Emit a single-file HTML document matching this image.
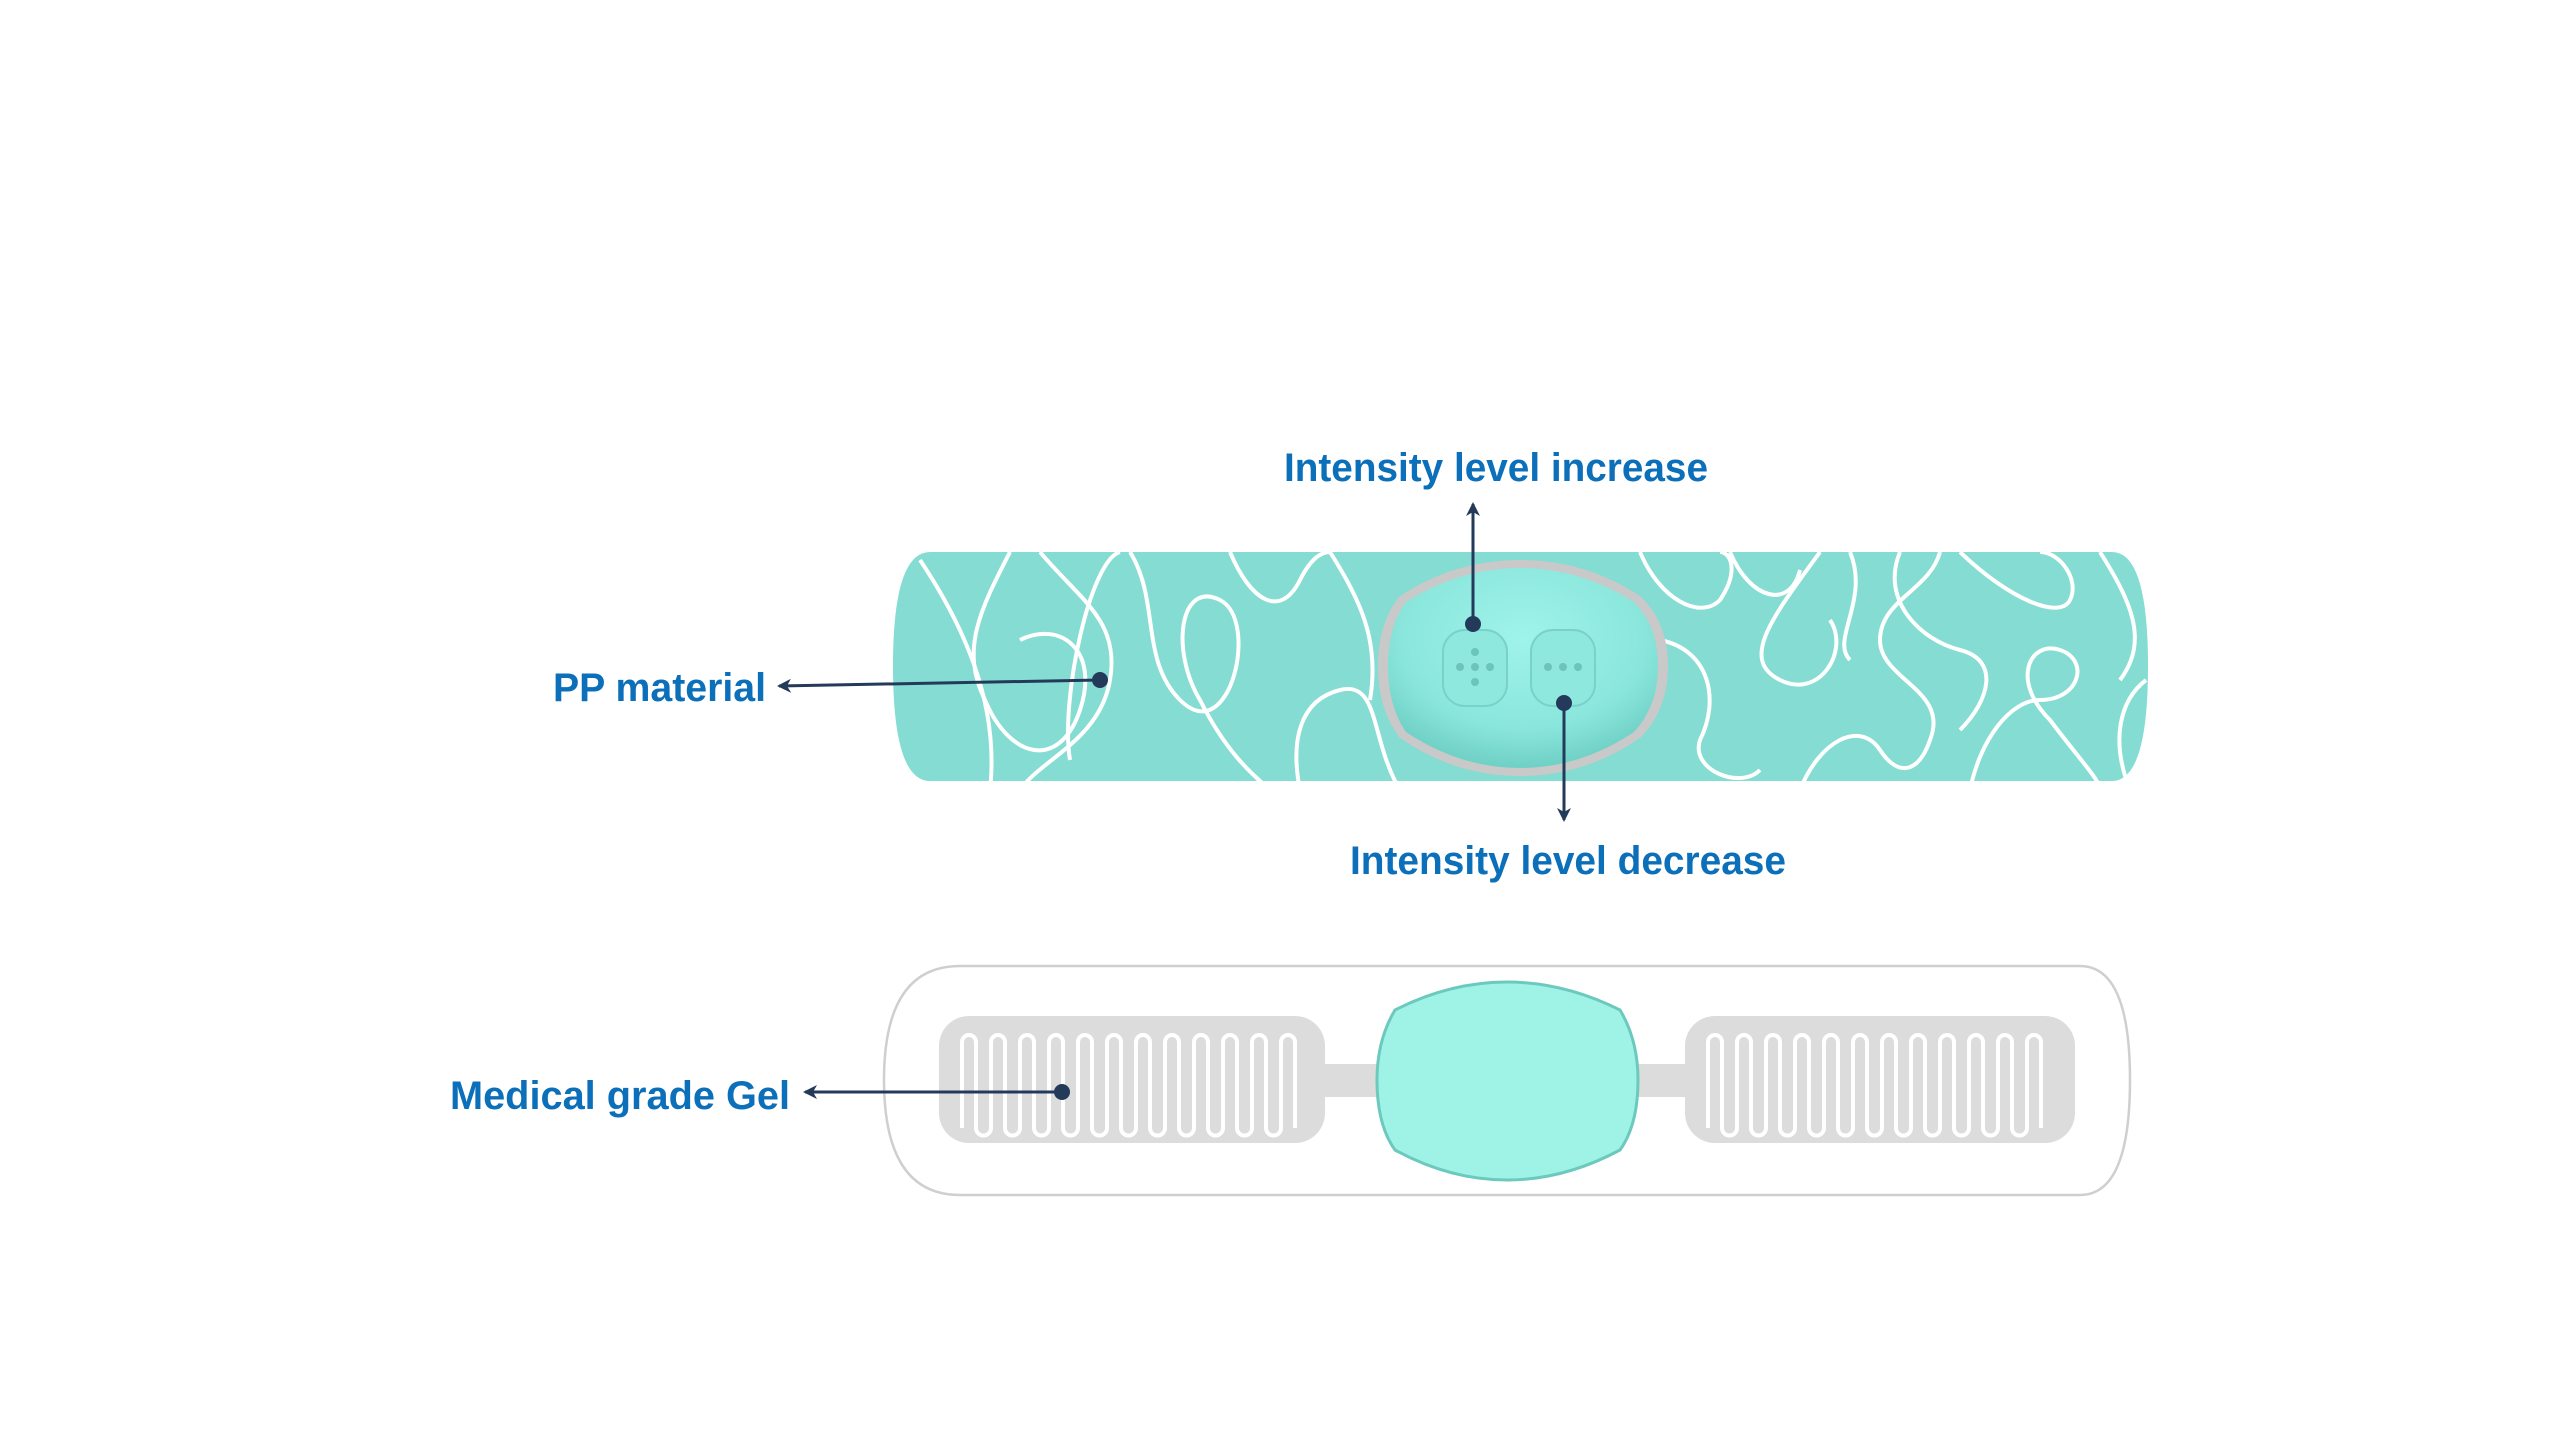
<!DOCTYPE html>
<html><head><meta charset="utf-8"><style>
html,body{margin:0;padding:0;background:#fff;}
svg{display:block;}
text{font-family:"Liberation Sans",sans-serif;font-weight:bold;fill:#0c6fba;}
</style></head><body>
<svg width="2560" height="1440" viewBox="0 0 2560 1440" xmlns="http://www.w3.org/2000/svg">
<defs>
<clipPath id="strip"><path d="M930 552 H2112 Q2148 552 2148 666 Q2148 781 2112 781 H930 Q893 781 893 666 Q893 552 930 552 Z"/></clipPath>
<radialGradient id="dev" cx="50%" cy="35%" r="65%"><stop offset="0" stop-color="#9ff3ea"/><stop offset="0.7" stop-color="#8ae6dc"/><stop offset="1" stop-color="#6fd0c6"/></radialGradient>
<marker id="ah" markerWidth="14" markerHeight="14" refX="12" refY="7" orient="auto" markerUnits="userSpaceOnUse"><path d="M0 0 L14 7 L0 14 L4 7 Z" fill="#243a5a"/></marker>
</defs>

<path d="M930 552 H2112 Q2148 552 2148 666 Q2148 781 2112 781 H930 Q893 781 893 666 Q893 552 930 552 Z" fill="#84dcd2"/>
<g clip-path="url(#strip)" fill="none" stroke="#fff" stroke-width="4">
<path d="M920 560 C960 620 1000 700 990 790"/>
<path d="M1010 552 C980 610 960 650 985 700 C1010 760 1060 770 1080 710 C1100 650 1060 620 1020 640"/>
<path d="M1040 552 C1080 600 1120 620 1110 680 C1100 740 1040 760 1020 790"/>
<path d="M1070 760 C1060 700 1090 560 1120 552"/>
<path d="M1130 552 C1160 600 1140 660 1180 700 C1230 750 1260 620 1220 600 C1180 580 1170 650 1200 700 C1230 760 1260 780 1270 790"/>
<path d="M1230 552 C1250 600 1280 620 1300 580 C1310 560 1320 552 1330 552"/>
<path d="M1300 790 C1290 740 1300 700 1340 690 C1380 680 1370 740 1400 790"/>
<path d="M1330 552 C1360 600 1380 640 1370 700"/>
<path d="M1640 552 C1660 600 1700 620 1720 600 C1740 570 1730 552 1720 552"/>
<path d="M1660 640 C1710 650 1720 700 1700 740 C1690 770 1740 790 1760 770"/>
<path d="M1730 552 C1750 600 1790 610 1800 570"/>
<path d="M1820 552 C1770 620 1740 660 1780 680 C1820 700 1850 650 1830 620"/>
<path d="M1800 790 C1820 740 1860 720 1880 750 C1900 780 1920 770 1930 740 C1950 690 1880 680 1880 640 C1880 600 1930 590 1940 552"/>
<path d="M1850 552 C1870 600 1830 640 1850 660"/>
<path d="M1960 552 C2010 600 2060 620 2070 600 C2080 580 2060 552 2040 552"/>
<path d="M1970 790 C1980 740 2010 700 2040 700 C2080 700 2090 660 2060 650 C2030 640 2010 680 2050 720 C2080 760 2100 780 2100 790"/>
<path d="M1900 552 C1880 600 1920 640 1960 650 C2000 660 1990 700 1960 730"/>
<path d="M2100 552 C2130 600 2150 640 2120 680"/>
<path d="M2130 790 C2110 740 2120 700 2146 680"/>
</g>

<path d="M1400 596 Q1455 560 1520 560 Q1585 560 1640 596 Q1668 622 1668 666 Q1668 710 1640 738 Q1585 776 1520 776 Q1455 776 1400 738 Q1378 710 1378 666 Q1378 622 1400 596 Z" fill="#c9c9c9"/>
<path d="M1406 602 Q1460 568 1520 568 Q1580 568 1634 602 Q1658 626 1658 666 Q1658 706 1634 732 Q1580 768 1520 768 Q1460 768 1406 732 Q1388 706 1388 666 Q1388 626 1406 602 Z" fill="url(#dev)"/>
<rect x="1443" y="630" width="64" height="76" rx="22" fill="#8ee8de" stroke="#78d2c8" stroke-width="2"/>
<rect x="1531" y="630" width="64" height="76" rx="22" fill="#8ee8de" stroke="#78d2c8" stroke-width="2"/>
<g fill="#6cc4ba">
<circle cx="1475" cy="652" r="4"/><circle cx="1475" cy="667" r="4"/><circle cx="1475" cy="682" r="4"/><circle cx="1460" cy="667" r="4"/><circle cx="1490" cy="667" r="4"/>
<circle cx="1548" cy="667" r="4"/><circle cx="1563" cy="667" r="4"/><circle cx="1578" cy="667" r="4"/>
</g>

<path d="M960 966 H2080 Q2130 966 2130 1080 Q2130 1195 2080 1195 H960 Q884 1195 884 1080 Q884 966 960 966 Z" fill="#fff" stroke="#cfcfcf" stroke-width="2.5"/>
<rect x="1320" y="1064" width="370" height="33" fill="#dcdcdc"/>
<rect x="939" y="1016" width="386" height="127" rx="30" fill="#dcdcdc"/>
<rect x="1685" y="1016" width="390" height="127" rx="30" fill="#dcdcdc"/>
<g fill="none" stroke="#fff" stroke-width="4">
<path d="M962 1128 v-86 a7 7 0 0 1 14 0 v86 a7.5 7.5 0 0 0 15 0 v-86 a7 7 0 0 1 14 0 v86 a7.5 7.5 0 0 0 15 0 v-86 a7 7 0 0 1 14 0 v86 a7.5 7.5 0 0 0 15 0 v-86 a7 7 0 0 1 14 0 v86 a7.5 7.5 0 0 0 15 0 v-86 a7 7 0 0 1 14 0 v86 a7.5 7.5 0 0 0 15 0 v-86 a7 7 0 0 1 14 0 v86 a7.5 7.5 0 0 0 15 0 v-86 a7 7 0 0 1 14 0 v86 a7.5 7.5 0 0 0 15 0 v-86 a7 7 0 0 1 14 0 v86 a7.5 7.5 0 0 0 15 0 v-86 a7 7 0 0 1 14 0 v86 a7.5 7.5 0 0 0 15 0 v-86 a7 7 0 0 1 14 0 v86 a7.5 7.5 0 0 0 15 0 v-86 a7 7 0 0 1 14 0 v86 a7.5 7.5 0 0 0 15 0 v-86 a7 7 0 0 1 14 0 v86"/>
<path d="M1708 1128 v-86 a7 7 0 0 1 14 0 v86 a7.5 7.5 0 0 0 15 0 v-86 a7 7 0 0 1 14 0 v86 a7.5 7.5 0 0 0 15 0 v-86 a7 7 0 0 1 14 0 v86 a7.5 7.5 0 0 0 15 0 v-86 a7 7 0 0 1 14 0 v86 a7.5 7.5 0 0 0 15 0 v-86 a7 7 0 0 1 14 0 v86 a7.5 7.5 0 0 0 15 0 v-86 a7 7 0 0 1 14 0 v86 a7.5 7.5 0 0 0 15 0 v-86 a7 7 0 0 1 14 0 v86 a7.5 7.5 0 0 0 15 0 v-86 a7 7 0 0 1 14 0 v86 a7.5 7.5 0 0 0 15 0 v-86 a7 7 0 0 1 14 0 v86 a7.5 7.5 0 0 0 15 0 v-86 a7 7 0 0 1 14 0 v86 a7.5 7.5 0 0 0 15 0 v-86 a7 7 0 0 1 14 0 v86 a7.5 7.5 0 0 0 15 0 v-86 a7 7 0 0 1 14 0 v86"/>
</g>
<path d="M1395 1010 Q1450 982 1507 982 Q1564 982 1620 1010 Q1638 1040 1638 1080 Q1638 1125 1620 1150 Q1564 1180 1507 1180 Q1450 1180 1395 1150 Q1377 1125 1377 1080 Q1377 1040 1395 1010 Z" fill="#9ff2e6" stroke="#6cc9bd" stroke-width="3"/>

<g stroke="#243a5a" stroke-width="3" fill="#243a5a">
<line x1="1473" y1="624" x2="1473" y2="504" marker-end="url(#ah)"/>
<circle cx="1473" cy="624" r="8" stroke="none"/>
<line x1="1564" y1="703" x2="1564" y2="820" marker-end="url(#ah)"/>
<circle cx="1564" cy="703" r="8" stroke="none"/>
<line x1="1100" y1="680" x2="779" y2="686" marker-end="url(#ah)"/>
<circle cx="1100" cy="680" r="8" stroke="none"/>
<line x1="1062" y1="1092" x2="805" y2="1092" marker-end="url(#ah)"/>
<circle cx="1062" cy="1092" r="8" stroke="none"/>
</g>

<text x="1284" y="481" font-size="40" textLength="424" lengthAdjust="spacingAndGlyphs">Intensity level increase</text>
<text x="1350" y="874" font-size="40" textLength="436" lengthAdjust="spacingAndGlyphs">Intensity level decrease</text>
<text x="553" y="701" font-size="40" textLength="213" lengthAdjust="spacingAndGlyphs">PP material</text>
<text x="450" y="1109" font-size="40" textLength="340" lengthAdjust="spacingAndGlyphs">Medical grade Gel</text>
</svg>
</body></html>
